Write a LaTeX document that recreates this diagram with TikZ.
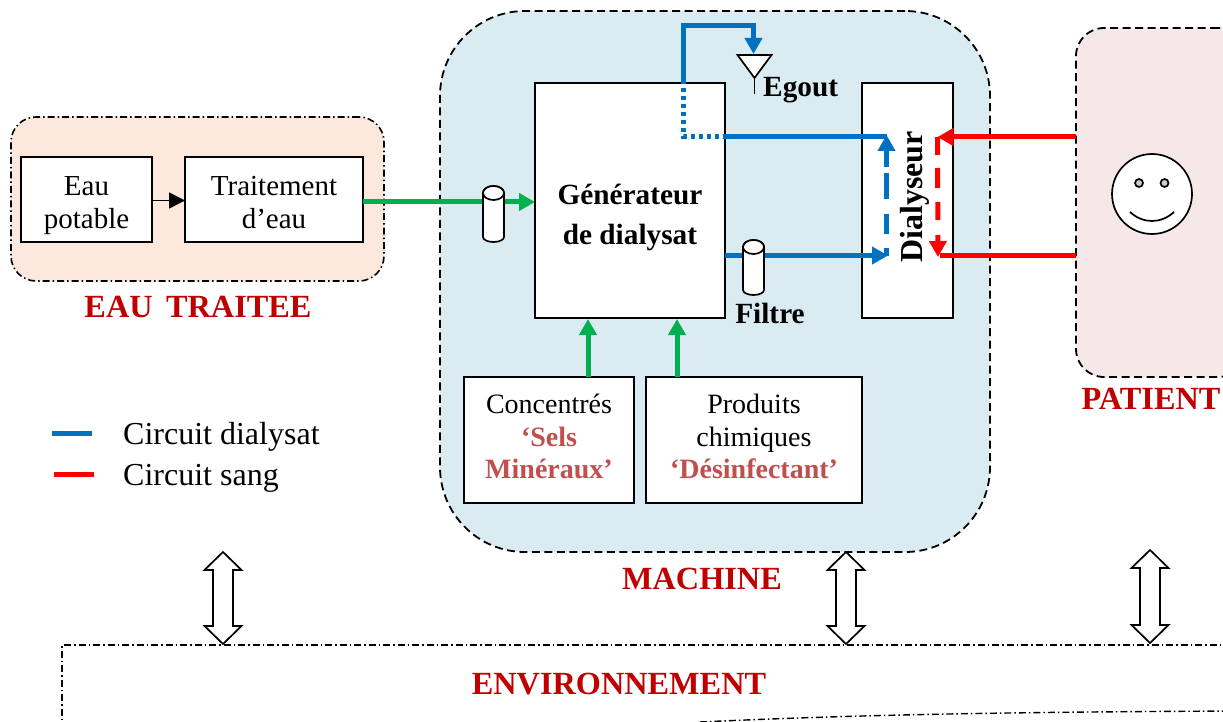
\documentclass[tikz,border=0pt]{standalone}
\usepackage{fontspec}
\setmainfont{Liberation Serif}
\usetikzlibrary{arrows.meta}
\definecolor{cblue}{HTML}{0070C0}
\definecolor{cred}{HTML}{FF0000}
\definecolor{cgreen}{HTML}{00B050}
\definecolor{cdark}{HTML}{C00000}
\definecolor{crose}{HTML}{C0504D}
\tikzset{
  box/.style={draw=black,line width=1.7pt,fill=white,inner sep=0pt,outer sep=0pt},
  boxtext/.style={inner sep=0pt,align=center,font=\fontsize{29}{33}\selectfont},
  boxtextb/.style={inner sep=0pt,align=center,font=\fontsize{28}{32.5}\selectfont},
  region/.style={draw=black,line width=1.8pt,inner sep=0pt,outer sep=0pt,dash pattern=on 8pt off 4.5pt},
  regiondd/.style={draw=black,line width=1.6pt,inner sep=0pt,outer sep=0pt,dash pattern=on 7pt off 3pt on 1.5pt off 3pt},
  title/.style={text=cdark,font=\fontsize{32.3}{36}\selectfont\bfseries,inner sep=0pt},
  label/.style={font=\fontsize{29.3}{40}\selectfont\bfseries,inner sep=0pt,align=center},
  legend/.style={font=\fontsize{32}{36}\selectfont,inner sep=0pt,anchor=west},
  bluew/.style={draw=cblue,line width=5pt},
  redw/.style={draw=cred,line width=5pt},
  greenw/.style={draw=cgreen,line width=5pt},
  tipb/.style={-{Triangle[length=16pt,width=17pt]}},
  thinl/.style={draw=black,line width=1.7pt,fill=white},
}
\newcommand{\cylshape}[4]{% centre x, top, bottom, half width
  \path[thinl] (#1-#4,#2) -- (#1-#4,#3-5) arc[start angle=180,end angle=0,x radius=#4,y radius=5] -- (#1+#4,#2)
     arc[start angle=0,end angle=-180,x radius=#4,y radius=7] -- cycle;
  \path[thinl] (#1,#2) ellipse[x radius=#4,y radius=7];}
\newcommand{\dblarrowshape}[3]{% x, top, bottom
  \path[thinl] (#1,#2) -- (#1+18.5,#2+18) -- (#1+10,#2+18) -- (#1+10,#3-18) -- (#1+18.5,#3-18) -- (#1,#3)
    -- (#1-18.5,#3-18) -- (#1-10,#3-18) -- (#1-10,#2+18) -- (#1-18.5,#2+18) -- cycle;}
\begin{document}
\begin{tikzpicture}[x=1pt,y=-1pt]
\useasboundingbox (0,0) rectangle (1223,722);
\clip (0,0) rectangle (1223,722);
% regions
\node[region,fill={rgb,255:red,218;green,236;blue,242},rounded corners=85pt,minimum width=550pt,minimum height=541pt] (machine) at (715,281.5) {};
\node[regiondd,fill={rgb,255:red,252;green,232;blue,220},rounded corners=25pt,minimum width=373pt,minimum height=164pt] (eau) at (197.5,199) {};
\node[region,fill={rgb,255:red,246;green,232;blue,232},rounded corners=28pt,minimum width=170pt,minimum height=349pt] (patient) at (1161,202.5) {};
% environment
\coordinate (envA) at (700,722);
\coordinate (envB) at (1240,711);
\draw[regiondd,line width=1.4pt] (62,730) -- (62,645) -- (1240,645);
\draw[regiondd,line width=1.4pt] (envA) .. controls (850,715) and (1000,712) .. (envB);
\node[title] (envt) at (619,684) {ENVIRONNEMENT};
% boxes
\node[box,minimum width=131pt,minimum height=85pt] (potable) at (86.5,199.5) {};
\node[boxtext] (potablet) at (86.5,205.5) {Eau\\potable};
\node[box,minimum width=178pt,minimum height=85pt] (trait) at (274,199.5) {};
\node[boxtext] (traitt) at (274,203) {Traitement\\d’eau};
\node[box,minimum width=190pt,minimum height=235pt] (gen) at (630,200.5) {};
\node[label] (gent) at (630,217.5) {Générateur\\de dialysat};
\node[box,minimum width=91pt,minimum height=235pt] (dial) at (907.5,200.5) {};
\node[box,minimum width=170pt,minimum height=126pt] (conc) at (549,440) {};
\node[boxtextb] (conct) at (549,436.5) {Concentrés\\{\bfseries\color{crose}‘Sels}\\{\bfseries\color{crose}Minéraux’}};
\node[box,minimum width=216pt,minimum height=126pt] (prod) at (754,440) {};
\node[boxtextb] (prodt) at (754,436.5) {Produits\\chimiques\\{\bfseries\color{crose}‘Désinfectant’}};
\node[label,font=\fontsize{32}{36}\selectfont\bfseries,rotate=90] (dialt) at (915,197) {Dialyseur};
% way points
\coordinate (gIn) at (535,202);
\coordinate (tOut) at (363,202);
\coordinate (gOut) at (725,255.5);
\coordinate (dB) at (888,255.5);
\coordinate (dBup) at (886.5,255.5);
\coordinate (dT) at (886.5,135);
\coordinate (gT) at (725,137);
\coordinate (dTc) at (887,137);
\coordinate (corner) at (683.5,137);
\coordinate (gTop) at (683.5,80);
\coordinate (up1) at (683.5,26);
\coordinate (up2) at (753.5,26);
\coordinate (egIn) at (753.5,54);
\coordinate (pT) at (1076,137);
\coordinate (rT) at (937.5,137);
\coordinate (pB) at (1076,255.5);
\coordinate (rB) at (940,255.5);
\coordinate (rL) at (938,257);
% egout
\coordinate (eg1) at (737.5,55);
\coordinate (eg2) at (771.5,55);
\coordinate (eg3) at (754.5,78);
\coordinate (egB) at (754.5,94);
\draw[thinl] (eg1) -- (eg2) -- (eg3) -- cycle;
\draw[thinl] (eg3) -- (egB);
\node[label,anchor=west] (egout) at (763,90) {Egout};
% connectors
\draw[-{Triangle[length=16pt,width=16pt]},line width=1.7pt] (potable.east |- 0,200.5) -- (trait.west |- 0,200.5);
\draw[greenw,tipb] (tOut) -- (gIn);
\draw[greenw,tipb] (conc.north -| 588,0) -- (588,319);
\draw[greenw,tipb] (prod.north -| 677,0) -- (677,319);
\draw[bluew,tipb] (gOut) -- (dB);
\draw[bluew,dash pattern=on 4pt off 4pt] (gTop) -- (corner) -- (gT);
\draw[bluew] (gT) -- (dTc);
\draw[bluew,tipb] (gTop) -- (up1) -- (up2) -- (egIn);
\draw[bluew,tipb,dash pattern=on 8pt off 14pt on 19pt off 15pt on 26pt off 6pt on 40pt off 0pt] (dBup) -- (dT);
\draw[redw,tipb] (pT) -- (rT);
\draw[redw] (pB) -- (rB);
\draw[redw,tipb,dash pattern=on 18pt off 13pt on 20pt off 14pt on 18pt off 15pt on 40pt off 0pt] (rT) -- (rL);
% cylinders
\cylshape{493.5}{193}{242}{10.5}
\cylshape{753.5}{247}{295}{10.5}
\node[label] (filtre) at (770,313) {Filtre};
% smiley
\node[draw=black,line width=1.7pt,fill=white,circle,minimum size=80pt,inner sep=0pt] (face) at (1152,194) {};
\node[draw=black,line width=1.7pt,fill=black!20,circle,minimum size=8pt,inner sep=0pt] (eyeL) at (1139,183) {};
\node[draw=black,line width=1.7pt,fill=black!20,circle,minimum size=8pt,inner sep=0pt] (eyeR) at (1164.5,183) {};
\coordinate (smL) at (1130,212);
\coordinate (smR) at (1174,212);
\draw[black,line width=1.7pt] (smL) .. controls (1143,224) and (1161,224) .. (smR);
% titles
\node[title] (eaut) at (198,307) {EAU\, TRAITEE};
\node[title] (macht) at (702,579) {MACHINE};
\node[title] (patt) at (1151,399) {PATIENT};
% legend
\coordinate (lb1) at (52,433); \coordinate (lb2) at (92,433);
\coordinate (lr1) at (54,474); \coordinate (lr2) at (94,474);
\draw[bluew] (lb1) -- (lb2);
\draw[redw] (lr1) -- (lr2);
\node[legend] (lt1) at (123,437) {Circuit dialysat};
\node[legend] (lt2) at (123,478) {Circuit sang};
% double arrows
\dblarrowshape{223}{552}{644}
\dblarrowshape{846}{552}{644}
\dblarrowshape{1150}{550}{643}
\end{tikzpicture}
\end{document}
